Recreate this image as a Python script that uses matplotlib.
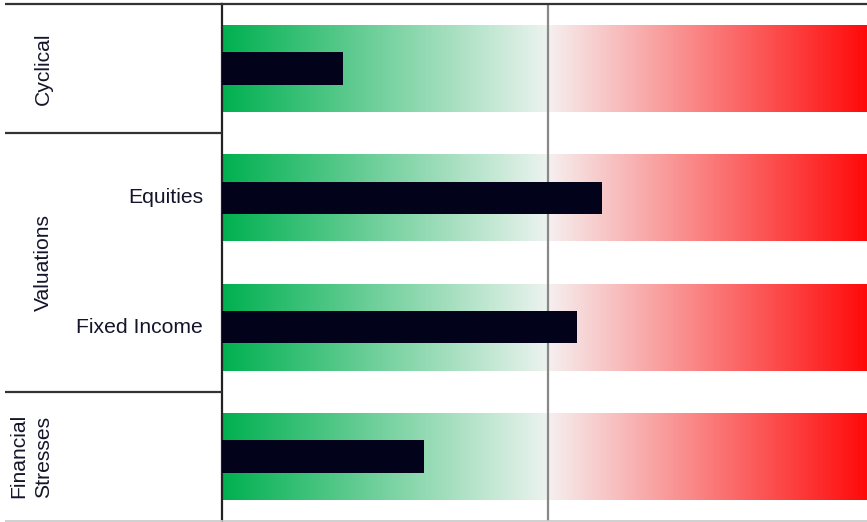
import numpy as np
import matplotlib.pyplot as plt

plt.rcParams['font.family'] = ['Liberation Sans', 'DejaVu Sans']

# indicator rows, top to bottom
rows = ["Cyclical", "Equities", "Fixed Income", "Financial Stresses"]
scores = [-0.63, 0.166, 0.089, -0.38]

# grouping shown in the left panel
groups = ["Cyclical", "Valuations", "Financial\nStresses"]
group_pos = [0, 1.5, 3]
group_x = [43, 43, 31]
sub_labels = ["Equities", "Fixed Income"]
sub_pos = [1, 2]
group_breaks = [0.5, 2.5]

xmin, xmax = -1.0, 0.98
txt_col = '#14142b'
bar_col = '#02021a'

fig = plt.figure(figsize=(8.67, 5.22), dpi=100)
W, H = 867, 522
bot = 1 - 521 / H
top = 1 - 4 / H
ax = fig.add_axes([222 / W, bot, (W - 222) / W, top - bot])
ax0 = fig.add_axes([0, bot, 222 / W, top - bot])

# background gradient: green -> pale at 0, pale -> red at the right
n = 600
xs = np.linspace(xmin, xmax, n)
green0 = np.array([0, 176, 80]) / 255
green1 = np.array([236, 243, 239]) / 255
red0 = np.array([246, 240, 240]) / 255
red1 = np.array([255, 10, 10]) / 255
img = np.zeros((1, n, 3))
for i, x in enumerate(xs):
    if x < 0:
        t = (x - xmin) / (0 - xmin)
        img[0, i] = green0 + (green1 - green0) * t
    else:
        t = x / xmax
        img[0, i] = red0 + (red1 - red0) * t

band_h = 0.673
for i in range(len(rows)):
    ax.imshow(img, extent=[xmin, xmax, i + band_h / 2, i - band_h / 2],
              aspect='auto', interpolation='bilinear', zorder=1)

ax.barh(range(len(rows)), [s - xmin for s in scores], left=xmin, height=0.25,
        color=bar_col, zorder=3)
ax.axvline(0, color='#888888', lw=1.6, zorder=2)

ax.set_xlim(xmin, xmax)
ax.set_ylim(3.5, -0.5)
ax.set_xticks([])
ax.set_yticks([])
ax.spines['right'].set_visible(False)
ax.spines['left'].set_color('#222222')
ax.spines['left'].set_linewidth(1.6)
ax.spines['top'].set_color('#333333')
ax.spines['top'].set_linewidth(1.6)
ax.spines['bottom'].set_color('#c8c8c8')
ax.spines['bottom'].set_linewidth(1.2)

# left label panel
ax0.set_xlim(0, 222)
ax0.set_ylim(3.5, -0.5)
ax0.axis('off')
ax0.hlines([-0.5], 5, 222, color='#333333', lw=1.6, clip_on=False)
ax0.hlines(group_breaks, 5, 222, color='#333333', lw=1.6)
ax0.hlines([3.5], 5, 222, color='#c8c8c8', lw=1.2, clip_on=False)
for g, y, x in zip(groups, group_pos, group_x):
    ax0.text(x, y, g, rotation=90, ha='center', va='center',
             multialignment='left', linespacing=1.35,
             fontsize=15.2, color=txt_col)
for s, y in zip(sub_labels, sub_pos):
    ax0.text(203, y, s, ha='right', va='center', fontsize=15.2, color=txt_col)

fig.savefig('out.png', dpi=100)
